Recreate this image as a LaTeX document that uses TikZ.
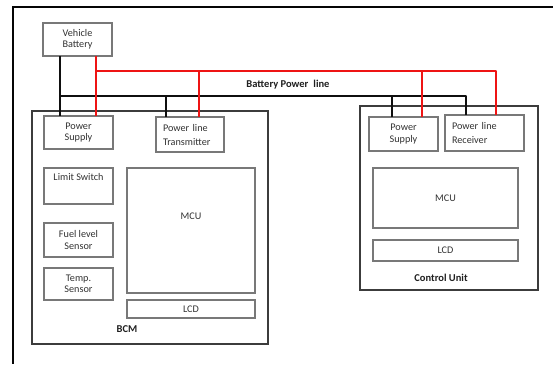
\documentclass[tikz,border=0pt]{standalone}
\usepackage{fontspec}
\setmainfont{Carlito}
\definecolor{framec}{RGB}{5,5,5}
\definecolor{unitc}{RGB}{60,60,60}
\definecolor{partc}{RGB}{120,120,120}
\definecolor{txtc}{RGB}{50,50,50}
\definecolor{wirered}{RGB}{238,20,20}
\definecolor{wireblk}{RGB}{15,15,15}
\tikzset{
  part/.style={draw=partc, line width=1.2pt, inner sep=0pt, outer sep=0pt,
    anchor=north west, align=center, text=txtc,
    font=\fontsize{10.2}{11.5}\selectfont},
  partleft/.style={part, align=left, inner xsep=7pt, text width=#1,
    font=\fontsize{10.2}{14}\selectfont},
  unit/.style={draw=unitc, line width=1.8pt, inner sep=0pt, outer sep=0pt,
    anchor=north west},
  title/.style={font=\bfseries\fontsize{10.5}{12}\selectfont, text=black!88, inner sep=0pt},
  wire/.style={line width=2.3pt, line join=round},
  blackwire/.style={wire, draw=wireblk},
  redwire/.style={wire, draw=wirered},
}
\begin{document}
\begin{tikzpicture}[x=1pt, y=-1pt]
\useasboundingbox (0,0) rectangle (553,364);

% outer frame
\draw[line width=2.4pt, draw=framec] (553,7) -- (13,7) -- (13,364);

% the two units
\node[unit, minimum width=236pt, minimum height=233pt] (bcm) at (32,111) {};
\node[unit, minimum width=178pt, minimum height=184pt] (cu) at (360,106) {};
\node[title] (bcmlbl) at (127,329) {BCM};
\node[title] (culbl) at (441,278) {Control Unit};

% battery
\node[part, minimum width=69pt, minimum height=33pt] (batt) at (43,23) {Vehicle\\Battery};

% BCM contents
\node[part, minimum width=69pt, minimum height=33pt] (bps) at (44,116) {Power\\Supply};
\node[partleft=54pt, minimum height=35pt] (tx) at (156,117) {Power line\\Transmitter};
\node[part, minimum width=69pt, minimum height=36pt] (lim) at (44,168) {Limit Switch\\[6pt]};
\node[part, minimum width=69pt, minimum height=34pt] (fuel) at (44,223) {Fuel level\\Sensor};
\node[part, minimum width=69pt, minimum height=32pt] (temp) at (44,268) {Temp.\\Sensor};
\node[part, minimum width=128pt, minimum height=125pt] (bmcu) at (127,168) {MCU\\[18pt]};
\node[part, minimum width=128pt, minimum height=18pt] (blcd) at (127,300) {LCD};

% control unit contents
\node[part, minimum width=69pt, minimum height=34pt] (cps) at (369,117) {Power\\Supply};
\node[partleft=65pt, minimum height=36pt] (rcv) at (445,115) {Power line\\Receiver};
\node[part, minimum width=145pt, minimum height=60pt] (cmcu) at (373,168) {MCU};
\node[part, minimum width=145pt, minimum height=21pt] (clcd) at (373,240) {LCD};

% bus label
\node[title] (buslbl) at (288,85) {Battery Power\hspace{0.25em} line};

% bus junction points
\coordinate (kL) at (60,96);
\coordinate (kT) at (166,96);
\coordinate (kC) at (392,96);
\coordinate (kR) at (466,96);
\coordinate (rL) at (96,71);
\coordinate (rT) at (199,71);
\coordinate (rC) at (422,71);
\coordinate (rR) at (496,71);

% ground / return line
\draw[blackwire] (batt.south -| kL) -- (bps.north -| kL);
\draw[blackwire] (kL) -- (kR) -- (rcv.north -| kR);
\draw[blackwire] (kT) -- (tx.north -| kT);
\draw[blackwire] (kC) -- (cps.north -| kC);

% battery supply line
\draw[redwire] (batt.south -| rL) -- (bps.north -| rL);
\draw[redwire] (rL) -- (rR) -- (rcv.north -| rR);
\draw[redwire] (rT) -- (tx.north -| rT);
\draw[redwire] (rC) -- (cps.north -| rC);
\end{tikzpicture}
\end{document}
